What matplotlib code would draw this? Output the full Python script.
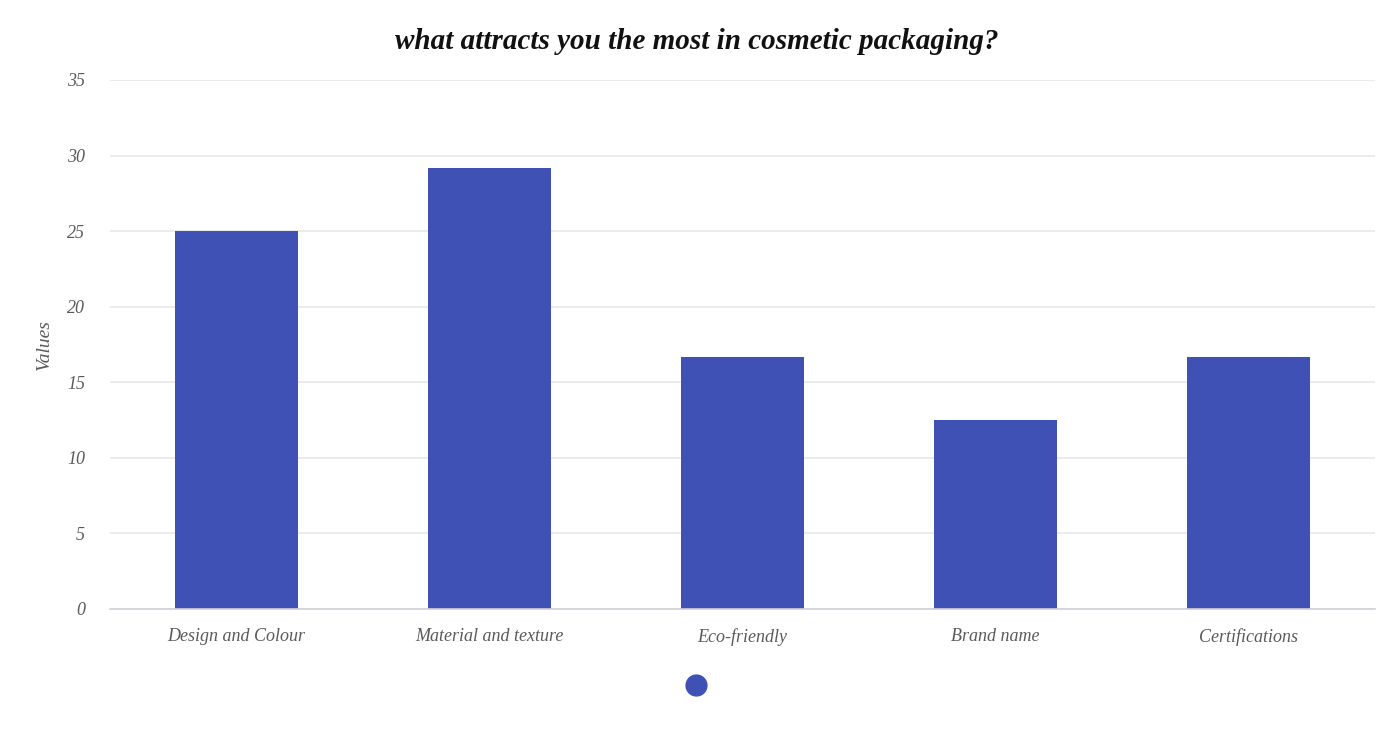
import matplotlib.pyplot as plt
from matplotlib.lines import Line2D

# data
categories = ["Design and Colour", "Material and texture", "Eco-friendly",
              "Brand name", "Certifications"]
values = [25.0, 29.17, 16.67, 12.5, 16.67]
yticks = [0, 5, 10, 15, 20, 25, 30, 35]

bar_color = "#3f51b5"
serif = ["Liberation Serif", "DejaVu Serif"]

fig = plt.figure(figsize=(13.93, 7.31), dpi=100)
ax = fig.add_axes([0.079, 0.167, 0.908, 0.7236])

x = list(range(len(categories)))
ax.bar(x, values, width=0.486, color=bar_color, zorder=3)

ax.set_xlim(-0.5, len(categories) - 0.5)
ax.set_ylim(0, 35)
ax.set_yticks(yticks)
ax.set_xticks(x)
ax.set_xticklabels(categories)

for lbl in ax.get_xticklabels() + ax.get_yticklabels():
    lbl.set_family(serif)
    lbl.set_style("italic")
    lbl.set_color("#5a5a5a")
    lbl.set_fontsize(13)

ax.tick_params(axis="both", length=0)
ax.tick_params(axis="y", pad=18)
ax.tick_params(axis="x", pad=14)

ax.grid(axis="y", color="#e8e8e8", linewidth=1.2, zorder=0)
for side in ["top", "right", "left"]:
    ax.spines[side].set_visible(False)
ax.spines["bottom"].set_color("#d0d0d8")
ax.spines["bottom"].set_linewidth(1.2)
ax.spines["bottom"].set_zorder(4)

ax.set_ylabel("Values", family=serif, style="italic", fontsize=14,
              color="#5a5a5a", labelpad=10)

fig.suptitle("what attracts you the most in cosmetic packaging?", x=0.5, y=0.962,
             family=serif, style="italic", fontweight="bold", fontsize=21,
             color="#111111")

# legend: a single dot without text
handle = Line2D([], [], marker="o", linestyle="", color=bar_color, markersize=15)
ax.legend(handles=[handle], labels=[""], loc="center",
          bbox_to_anchor=(0.5, 0.0617), bbox_transform=fig.transFigure,
          frameon=False, handlelength=0.5, handletextpad=0)

fig.savefig("out.png", dpi=100, facecolor="white")
